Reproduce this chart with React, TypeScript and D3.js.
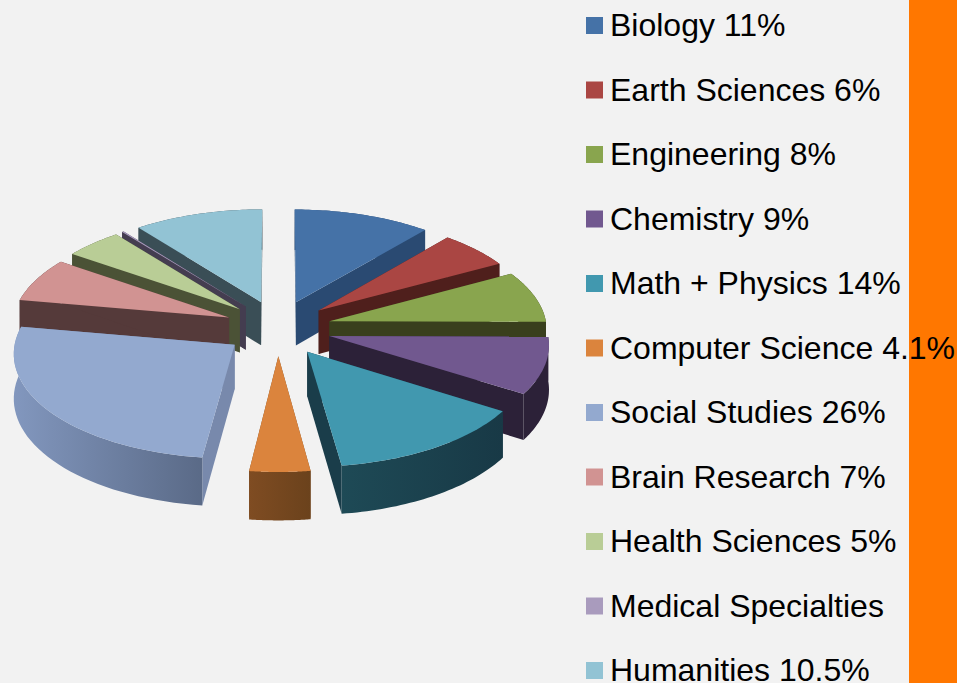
import React from "react";
import * as d3 from "d3";

const categories = ["Biology", "Earth Sciences", "Engineering", "Chemistry", "Math + Physics", "Computer Science", "Social Studies", "Brain Research", "Health Sciences", "Medical Specialties", "Humanities"];
const legendLabels = ["Biology 11%", "Earth Sciences 6%", "Engineering 8%", "Chemistry 9%", "Math + Physics 14%", "Computer Science 4.1%", "Social Studies 26%", "Brain Research 7%", "Health Sciences 5%", "Medical Specialties", "Humanities 10.5%"];
// Slice shares
const values = [11.1, 5.9, 8.1, 8.9, 13.85, 4.1, 25.83, 6.92, 4.7, 0.15, 10.45];
const topColors = ["#4572A7", "#AA4643", "#89A54E", "#71588F", "#4198AF", "#DB843D", "#93A9CF", "#D19392", "#B9CD96", "#A99BBD", "#92C3D4"];
const wallColors = ["#2A4A72", "#4F1F1C", "#393F1D", "#2C2138", "#1A3D4A", "#7A4A22", "#7889AC", "#553A3A", "#4B5236", "#443D50", "#3A4E56"];
const curveStops: [string, string][] = [
  ["#2A4A72", "#2A4A72"], ["#4F1F1C", "#4F1F1C"], ["#393F1D", "#393F1D"], ["#2C2138", "#2C2138"],
  ["#1E4A56", "#183946"], ["#7F4C22", "#6B421C"], ["#8297BE", "#5A6A87"], ["#553A3A", "#553A3A"],
  ["#4B5236", "#4B5236"], ["#443D50", "#443D50"], ["#3A4E56", "#3A4E56"],
];

const W = 957, H = 683;
const EXPLODE_X = 0.245, EXPLODE_Y = 0.27, PERSP = 0.072, DEPTH = 44;
const xs = d3.scaleLinear().domain([-1, 1]).range([278 - 217.5, 278 + 217.5]);
const ys = d3.scaleLinear().domain([-1, 1]).range([328 + 103, 328 - 103]);

type P = [number, number];
const project = (X: number, Y: number, h: number): P => {
  const s = 1 / (1 + PERSP * Y);
  return [xs(X * s), ys(Y * s) + h * s];
};
const line = d3.line<P>().curve(d3.curveLinear);
const pie = d3.pie<number>().sort(null).startAngle(0).endAngle(2 * Math.PI);

const slices = pie(values).map((a, i) => {
  const mid = (a.startAngle + a.endAngle) / 2;
  const ox = EXPLODE_X * Math.sin(mid), oy = EXPLODE_Y * Math.cos(mid);
  const rim = (h: number): P[] =>
    d3.range(0, 41).map((k) => {
      const t = a.startAngle + ((a.endAngle - a.startAngle) * k) / 40;
      return project(ox + Math.sin(t), oy + Math.cos(t), h);
    });
  const apex = (h: number) => project(ox, oy, h);
  const topRim = rim(0), botRim = rim(DEPTH);
  const n = topRim.length - 1;
  return {
    i, oy,
    top: line([apex(0), ...topRim])! + "Z",
    startWall: line([apex(0), topRim[0], botRim[0], apex(DEPTH)])! + "Z",
    endWall: line([apex(0), topRim[n], botRim[n], apex(DEPTH)])! + "Z",
    curve: line([...topRim, ...botRim.slice().reverse()])! + "Z",
  };
});
const order = slices.slice().sort((a, b) => b.oy - a.oy);

const legendY = d3.scalePoint<number>().domain(d3.range(categories.length)).range([25.5, 670.5]);

export default function App() {
  return (
    <svg width={W} height={H} viewBox={`0 0 ${W} ${H}`} style={{ position: "absolute", left: 0, top: 0, display: "block" }}>
      <defs>
        {curveStops.map((c, i) => (
          <linearGradient key={i} id={`curve${i}`} x1="0" x2="1" y1="0" y2="0">
            <stop offset="0" stopColor={c[0]} />
            <stop offset="1" stopColor={c[1]} />
          </linearGradient>
        ))}
      </defs>
      <rect x={0} y={0} width={W} height={H} fill="#F2F2F2" />
      <rect x={909} y={0} width={48} height={H} fill="#FF7700" />
      {order.map((s) => (
        <g key={s.i}>
          <path d={s.startWall} fill={wallColors[s.i]} />
          <path d={s.endWall} fill={wallColors[s.i]} />
          <path d={s.curve} fill={`url(#curve${s.i})`} />
          <path d={s.top} fill={topColors[s.i]} />
        </g>
      ))}
      {legendLabels.map((t, i) => (
        <g key={t}>
          <rect x={586} y={legendY(i)! - 8.5} width={17} height={17} fill={topColors[i]} />
          <text x={610} y={legendY(i)! + 10.5} fontFamily="'Liberation Sans', Arial, sans-serif" fontSize={32} fill="#000">
            {t}
          </text>
        </g>
      ))}
    </svg>
  );
}
